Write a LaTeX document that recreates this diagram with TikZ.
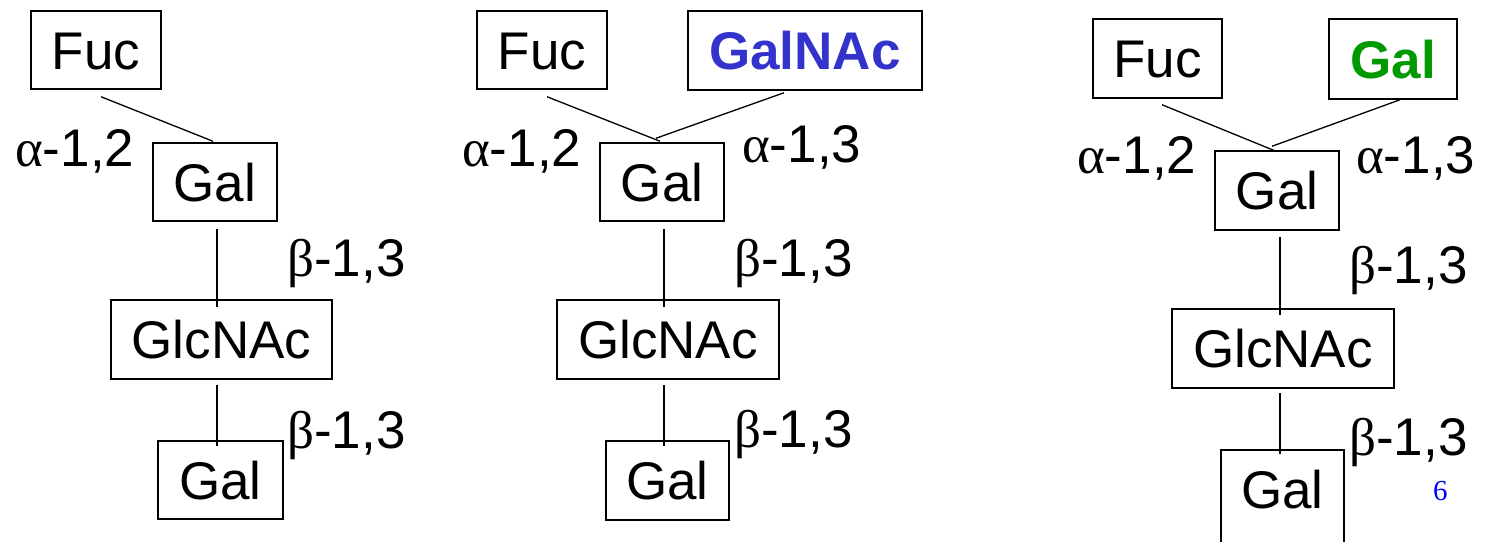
\documentclass[tikz,border=0pt]{standalone}
\usepackage{fontspec}
\setmainfont{Liberation Sans}
\newfontfamily\grk{Liberation Serif}
\newfontfamily\pgnum{Liberation Serif}
\usetikzlibrary{calc}
\definecolor{nacblue}{HTML}{3333CC}
\definecolor{galgreen}{HTML}{009900}
\definecolor{pgblue}{HTML}{0000FF}
\tikzset{
  sugar/.style={draw=black, line width=1.5pt, rectangle, inner sep=0pt,
    minimum height=78pt, text height=38pt, text depth=0pt,
    font=\fontsize{53}{63}\selectfont},
  bond/.style={draw=black, line width=1.3pt},
  linklab/.style={anchor=base west, inner sep=0pt, font=\fontsize{53}{63}\selectfont},
  pagenum/.style={anchor=base west, inner sep=0pt, text=pgblue, font=\pgnum\fontsize{29}{34}\selectfont}
}
\begin{document}
\begin{tikzpicture}[x=1pt,y=-1pt]
\useasboundingbox (0,0) rectangle (1487,541);
\clip (0,0) rectangle (1487,541);
% ---------- panel 1 ----------
\node[sugar, minimum width=130pt] (f1) at (96,50) {Fuc};
\node[sugar, minimum width=124pt] (g1) at (215,182) {Gal};
\node[sugar, minimum width=221pt, minimum height=79pt] (n1) at (221.5,339.5) {GlcNAc};
\node[sugar, minimum width=125pt] (b1) at (220.5,480) {Gal};
\draw[bond] ($(f1.south)+(5,7)$) -- ($(g1.north)+(-2,-1)$);
\draw[bond] ($(g1.south)+(2,7)$) -- ($(g1.south)+(2,85)$);
\draw[bond] ($(n1.south)+(-4.5,5)$) -- ($(b1.north)+(-3.5,6)$);
\node[linklab] (l1a) at (15,166) {{\grk α}-1,2};
\node[linklab] (l1b) at (287,276) {{\grk β}-1,3};
\node[linklab] (l1c) at (287,448) {{\grk β}-1,3};
% ---------- panel 2 ----------
\node[sugar, minimum width=130pt] (f2) at (542,50) {Fuc};
\node[sugar, minimum width=234pt, minimum height=79pt, text=nacblue, font=\bfseries\fontsize{53}{63}\selectfont] (a2) at (805,50.5) {GalNAc};
\node[sugar, minimum width=124pt] (g2) at (662,182) {Gal};
\node[sugar, minimum width=222pt, minimum height=79pt] (n2) at (668,339.5) {GlcNAc};
\node[sugar, minimum width=123pt, minimum height=79pt] (b2) at (667.5,480.5) {Gal};
\draw[bond] ($(f2.south)+(5,7)$) -- ($(g2.north)+(-2,-1)$);
\draw[bond] ($(a2.south)+(-21,2)$) -- ($(g2.north)+(-6,-4)$);
\draw[bond] ($(g2.south)+(2,7)$) -- ($(g2.south)+(2,85)$);
\draw[bond] ($(n2.south)+(-4,5)$) -- ($(b2.north)+(-3.5,6)$);
\node[linklab] (l2a) at (462,166) {{\grk α}-1,2};
\node[linklab] (l2b) at (742,162) {{\grk α}-1,3};
\node[linklab] (l2c) at (734,276) {{\grk β}-1,3};
\node[linklab] (l2d) at (734,447) {{\grk β}-1,3};
% ---------- panel 3 ----------
\node[sugar, minimum width=129pt, minimum height=79pt] (f3) at (1157.5,58.5) {Fuc};
\node[sugar, minimum width=128pt, minimum height=80pt, text=galgreen, font=\bfseries\fontsize{53}{63}\selectfont] (a3) at (1393,59) {Gal};
\node[sugar, minimum width=124pt, minimum height=79pt] (g3) at (1277,190.5) {Gal};
\node[sugar, minimum width=222pt, minimum height=79pt] (n3) at (1283,348.5) {GlcNAc};
\node[sugar, minimum width=123pt, minimum height=95pt, text depth=17pt] (b3) at (1282.5,497.5) {Gal};
\draw[bond] ($(f3.south)+(4.5,6)$) -- ($(g3.north)+(-1,1)$);
\draw[bond] ($(a3.south)+(7,0)$) -- ($(g3.north)+(-5,-4)$);
\draw[bond] ($(g3.south)+(3,6)$) -- ($(g3.south)+(3,84)$);
\draw[bond] ($(n3.south)+(-3,4)$) -- ($(b3.north)+(-2.5,5)$);
\node[linklab] (l3a) at (1077,173) {{\grk α}-1,2};
\node[linklab] (l3b) at (1356,173) {{\grk α}-1,3};
\node[linklab] (l3c) at (1349,283) {{\grk β}-1,3};
\node[linklab] (l3d) at (1349,455) {{\grk β}-1,3};
\node[pagenum] (pg) at (1433,500) {6};
\end{tikzpicture}
\end{document}
